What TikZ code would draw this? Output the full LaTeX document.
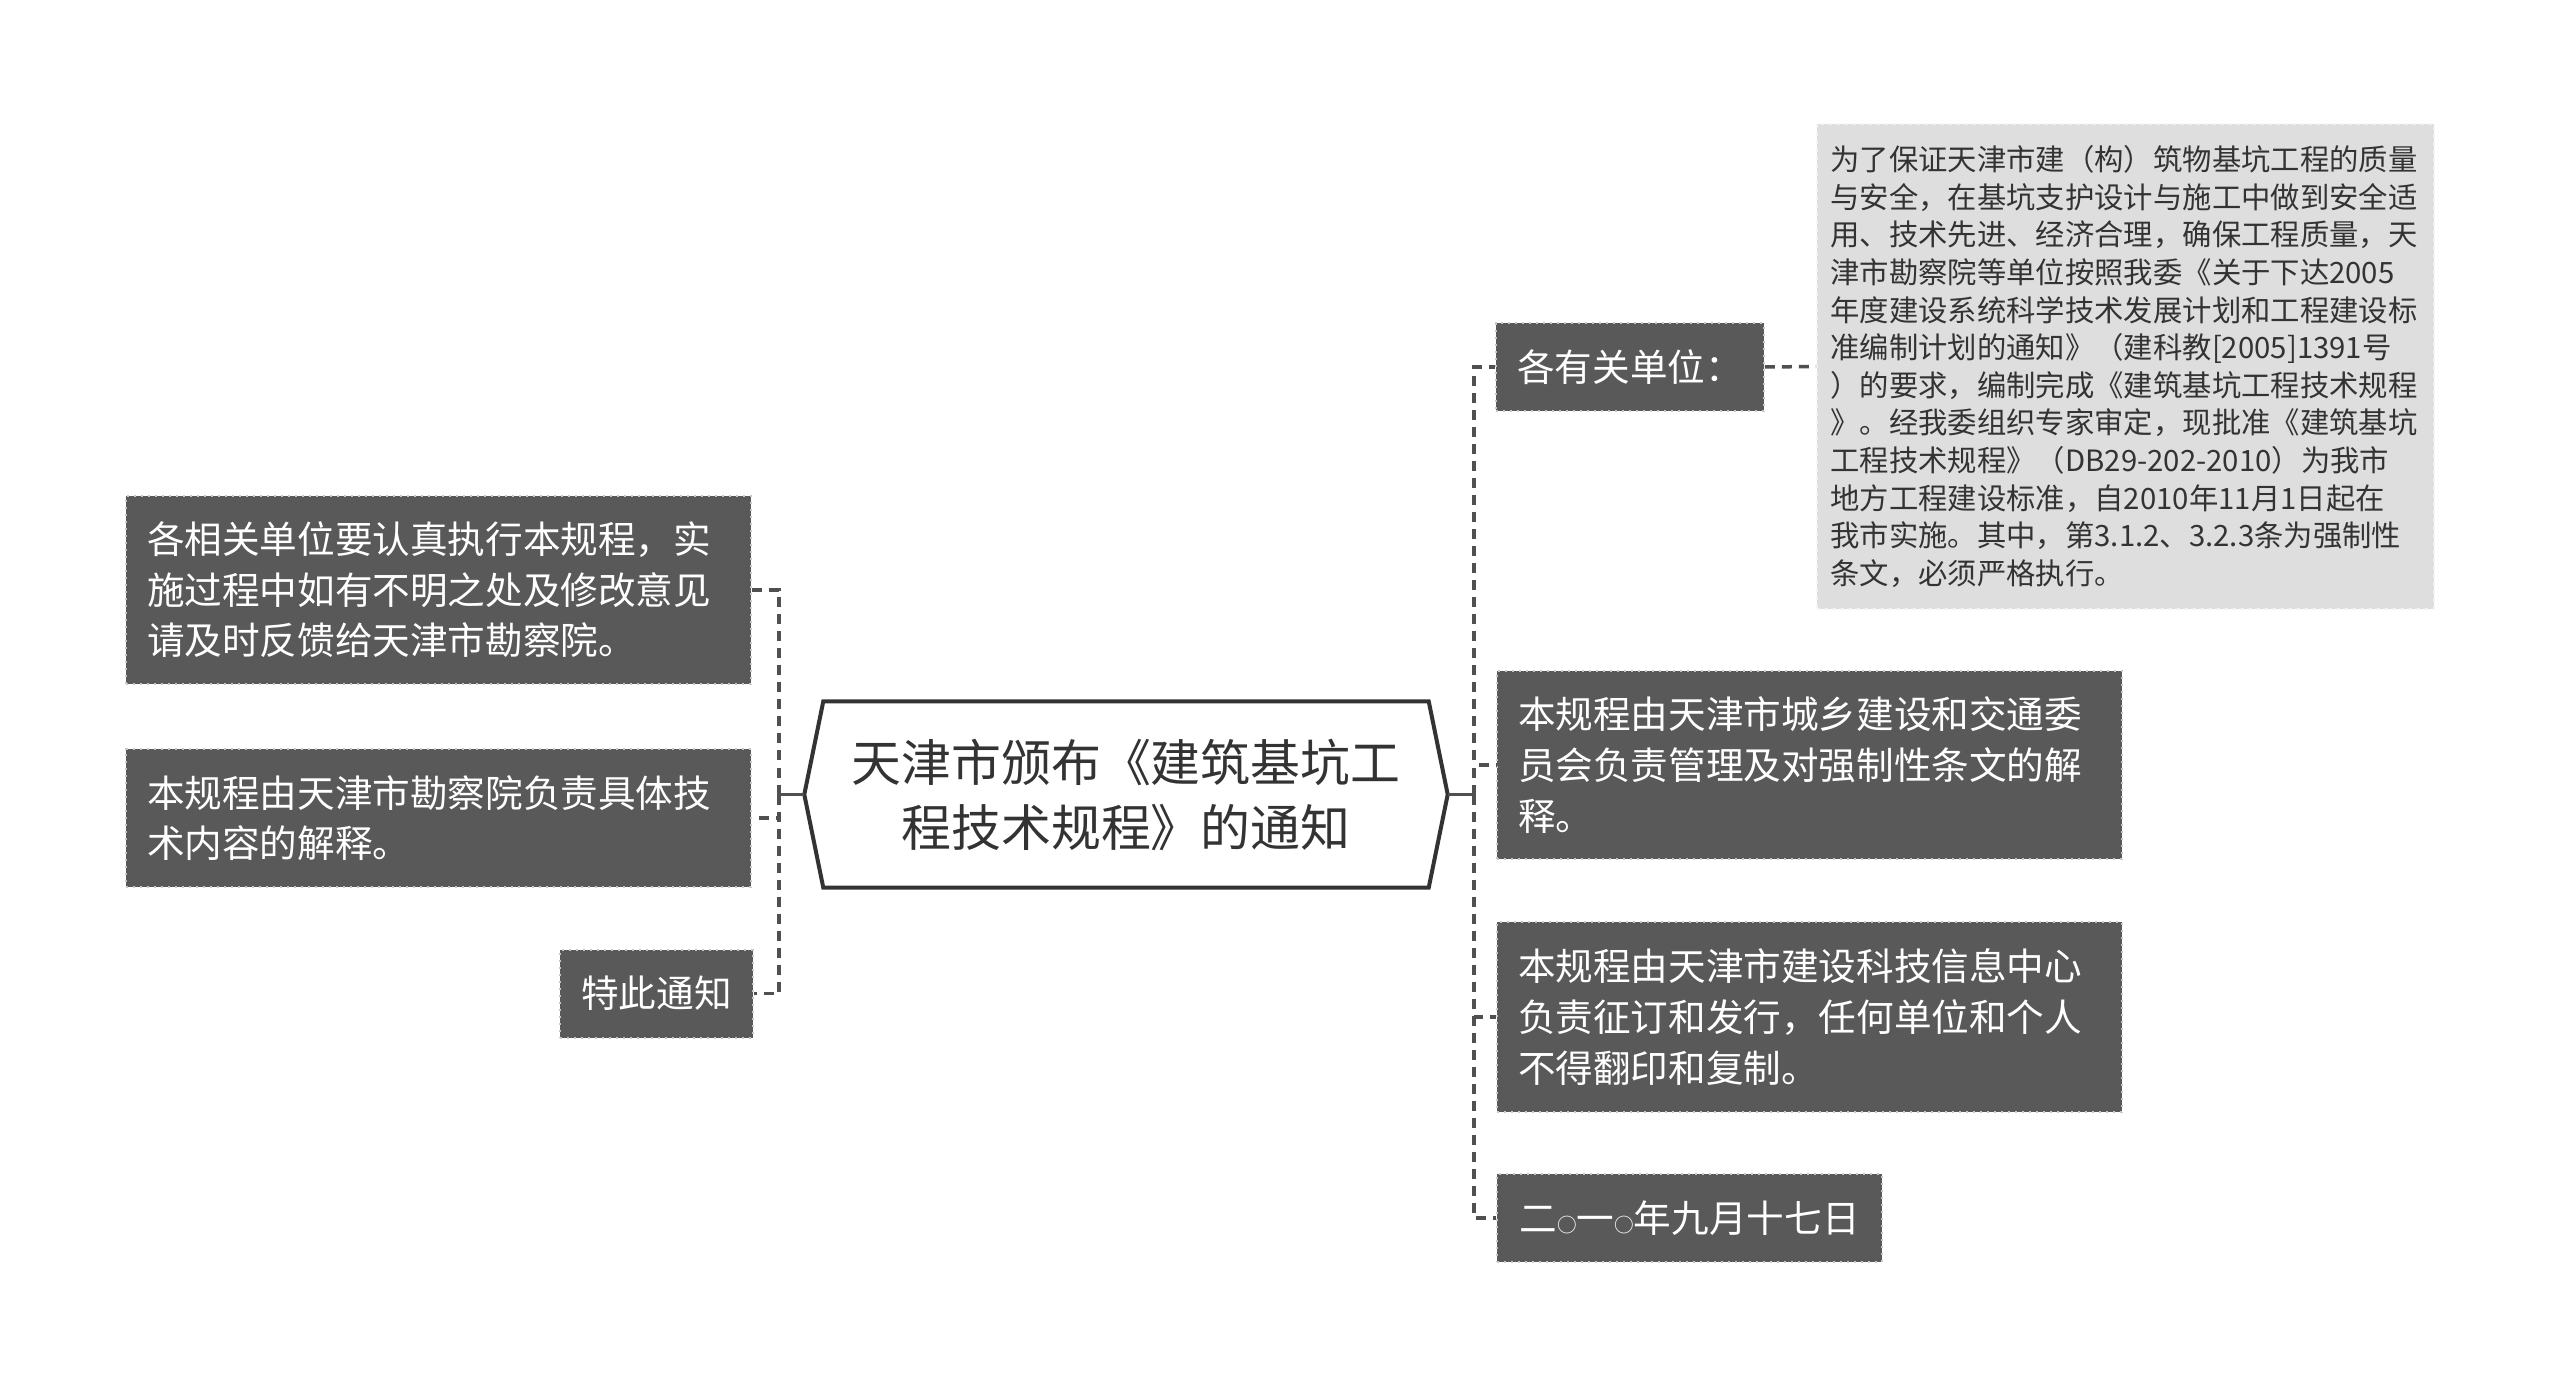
\documentclass[tikz,border=0pt]{standalone}
\usepackage{fontspec}
\newfontfamily\cjk{Noto Sans CJK SC}
\usetikzlibrary{positioning}

\definecolor{leafgray}{HTML}{595959}
\definecolor{leafedge}{HTML}{C8C8C8}
\definecolor{memogray}{HTML}{DEDEDE}
\definecolor{memoedge}{HTML}{F4F4F4}
\definecolor{inkgray}{HTML}{333333}
\definecolor{linkgray}{HTML}{505050}

\newcommand{\smallcirc}{{\fontsize{5.6pt}{5.6pt}\selectfont ○}}

\begin{document}
\begin{tikzpicture}[
  hub/.style={
    rectangle, minimum width=6.42cm, minimum height=1.85cm,
    inner sep=0pt, align=center, text=inkgray,
    font=\cjk\fontsize{14.2pt}{18.5pt}\selectfont},
  hexline/.style={draw=inkgray, line width=0.04cm, line join=miter},
  leaf/.style={
    rectangle, fill=leafgray, draw=leafedge, line width=0.02cm,
    dash pattern=on 0.02cm off 0.05cm, text=white, align=left,
    inner xsep=0.21cm, inner ysep=0pt, minimum height=0.88cm,
    font=\cjk\fontsize{10.7pt}{14.4pt}\selectfont},
  wide/.style={leaf, text width=5.83cm},
  memo/.style={
    rectangle, fill=memogray, draw=memoedge, line width=0.02cm,
    dash pattern=on 0.03cm off 0.05cm, text=inkgray, align=left,
    text width=5.9cm, inner xsep=0.135cm, minimum height=4.85cm,
    font=\cjk\fontsize{8.35pt}{10.7pt}\selectfont},
  link/.style={draw=linkgray, line width=0.035cm, dash pattern=on 0.1cm off 0.07cm},
  stem/.style={draw=linkgray, line width=0.035cm},
]

\fill[white] (0,0) rectangle (25.6,-13.89);
\useasboundingbox (0,0) rectangle (25.6,-13.89);

%% ---- Centre ----
\node[hub] (root) at (11.26,-7.945) {天津市颁布《建筑基坑工\\程技术规程》的通知};
\draw[hexline] ([xshift=0.19cm]root.north west) -- ([xshift=-0.19cm]root.north east)
  -- (root.east) -- ([xshift=-0.19cm]root.south east)
  -- ([xshift=0.19cm]root.south west) -- (root.west) -- cycle;

\coordinate (jr) at (14.74,-7.945);
\coordinate (jl) at (7.79,-7.945);

%% ---- Right side ----
\node[leaf, minimum width=2.66cm] (unit) at (16.30,-3.67) {各有关单位：};

\node[memo] (note) at (21.255,-3.665) {为了保证天津市建（构）筑物基坑工程的质量\\
  与安全，在基坑支护设计与施工中做到安全适\\
  用、技术先进、经济合理，确保工程质量，天\\
  津市勘察院等单位按照我委《关于下达2005\\
  年度建设系统科学技术发展计划和工程建设标\\
  准编制计划的通知》（建科教[2005]1391号\\
  ）的要求，编制完成《建筑基坑工程技术规程\\
  》。经我委组织专家审定，现批准《建筑基坑\\
  工程技术规程》（DB29-202-2010）为我市\\
  地方工程建设标准，自2010年11月1日起在\\
  我市实施。其中，第3.1.2、3.2.3条为强制性\\
  条文，必须严格执行。};

\node[wide, minimum height=1.88cm] (manage) at (18.095,-7.65)
  {本规程由天津市城乡建设和交通委\\员会负责管理及对强制性条文的解\\释。};
\node[wide, minimum height=1.90cm] (issue) at (18.095,-10.17)
  {本规程由天津市建设科技信息中心\\负责征订和发行，任何单位和个人\\不得翻印和复制。};
\node[leaf, minimum width=3.85cm] (date) at (16.895,-12.18)
  {二\smallcirc 一\smallcirc 年九月十七日};

%% ---- Left side ----
\node[wide, minimum height=1.88cm] (apply) at (4.385,-5.90)
  {各相关单位要认真执行本规程，实\\施过程中如有不明之处及修改意见\\请及时反馈给天津市勘察院。};
\node[wide, minimum height=1.38cm] (explain) at (4.385,-8.18)
  {本规程由天津市勘察院负责具体技\\术内容的解释。};
\node[leaf, minimum width=1.89cm] (notice) at (6.565,-9.935) {特此通知};

%% ---- Connectors ----
\draw[stem] (root.east) -- (jr);
\draw[stem] (root.west) -- (jl);

\draw[link] (jr) |- (unit.west);
\draw[link] (jr) |- (manage.west);
\draw[link] (jr) |- (issue.west);
\draw[link] (jr) |- (date.west);
\draw[link] (unit.east) -- (note.west);

\draw[link] (jl) |- (apply.east);
\draw[link] (jl) |- (explain.east);
\draw[link] (jl) |- (notice.east);

\end{tikzpicture}
\end{document}
